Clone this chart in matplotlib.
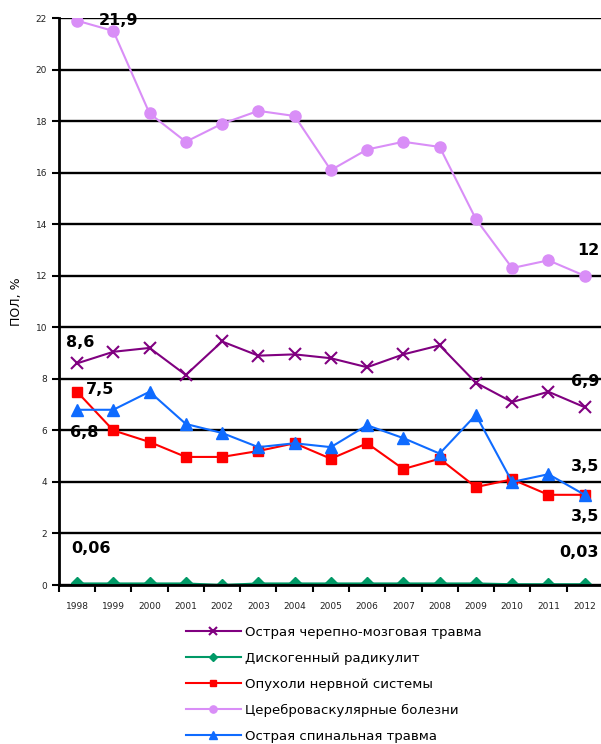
import matplotlib
matplotlib.use("Agg")
import matplotlib.pyplot as plt
import numpy as np

years = [str(y) for y in range(1998, 2013)]

tbi = [8.6, 9.05, 9.2, 8.15, 9.45, 8.9, 8.95, 8.8, 8.45, 8.95, 9.3, 7.85, 7.1, 7.5, 6.9]
radic = [0.06, 0.06, 0.06, 0.06, 0.0, 0.06, 0.06, 0.06, 0.06, 0.06, 0.06, 0.06, 0.03, 0.03, 0.03]
tumors = [7.5, 6.0, 5.55, 4.97, 4.97, 5.2, 5.5, 4.9, 5.5, 4.5, 4.9, 3.8, 4.1, 3.5, 3.5]
cerebro = [21.9, 21.5, 18.3, 17.2, 17.9, 18.4, 18.2, 16.1, 16.9, 17.2, 17.0, 14.2, 12.3, 12.6, 12.0]
spinal = [6.8, 6.8, 7.5, 6.25, 5.9, 5.35, 5.5, 5.35, 6.2, 5.7, 5.1, 6.6, 4.0, 4.3, 3.5]

names = ["Острая черепно-мозговая травма", "Дискогенный радикулит",
         "Опухоли нервной системы", "Цереброваскулярные болезни",
         "Острая спинальная травма"]

fig = plt.figure(figsize=(6.01, 7.44), dpi=100)
ax = fig.add_axes([0.098, 0.2137, 0.905, 0.762])
x = np.arange(len(years))

ax.plot(x, tbi, color="#800080", marker="x", ms=8.5, mew=1.5, lw=1.5, label=names[0])
ax.plot(x, radic, color="#009966", marker="D", ms=6, lw=1.5, label=names[1])
ax.plot(x, tumors, color="#FF0000", marker="s", ms=7.5, lw=1.5, label=names[2])
ax.plot(x, cerebro, color="#D98EF7", marker="o", ms=8, lw=1.5, label=names[3])
ax.plot(x, spinal, color="#0F6BFF", marker="^", ms=8.5, lw=1.5, label=names[4])

ax.set_xlim(-0.5, 14.5)
ax.set_ylim(0, 22)
ax.set_yticks(np.arange(0, 23, 2))
ax.set_xticks(x)
ax.set_xticklabels(years)
ax.set_xticks(np.arange(-0.5, 15, 1), minor=True)
ax.tick_params(axis="x", which="major", length=0, labelsize=6.5, pad=12, labelcolor="#222222")
ax.tick_params(axis="x", which="minor", length=5, width=1.5, direction="out")
ax.tick_params(axis="y", length=5, width=1.5, labelsize=6.5, labelcolor="#222222")
ax.grid(axis="y", color="black", lw=1.7)
ax.set_axisbelow(True)
for s in ["top", "right"]:
    ax.spines[s].set_visible(False)
ax.spines["left"].set_linewidth(2)
ax.spines["bottom"].set_linewidth(2)
ax.set_ylabel("ПОЛ, %", fontsize=9, labelpad=9)

lab = dict(fontsize=11.5, fontweight="bold", va="center")
ax.text(0.6, 21.9, "21,9", ha="left", **lab)
ax.text(14.4, 13.0, "12", ha="right", **lab)
ax.text(-0.3, 9.4, "8,6", ha="left", **lab)
ax.text(0.25, 7.6, "7,5", ha="left", **lab)
ax.text(-0.2, 5.9, "6,8", ha="left", **lab)
ax.text(14.4, 7.9, "6,9", ha="right", **lab)
ax.text(14.4, 4.6, "3,5", ha="right", **lab)
ax.text(14.4, 2.65, "3,5", ha="right", **lab)
ax.text(-0.15, 1.43, "0,06", ha="left", **lab)
ax.text(14.4, 1.28, "0,03", ha="right", **lab)

fig.legend(loc="upper left", bbox_to_anchor=(0.3, 0.166), frameon=False,
           fontsize=9.5, handlelength=4.2, handletextpad=0.3, labelspacing=0.98,
           markerscale=0.65, borderaxespad=0)

fig.savefig("out.png", dpi=100)
